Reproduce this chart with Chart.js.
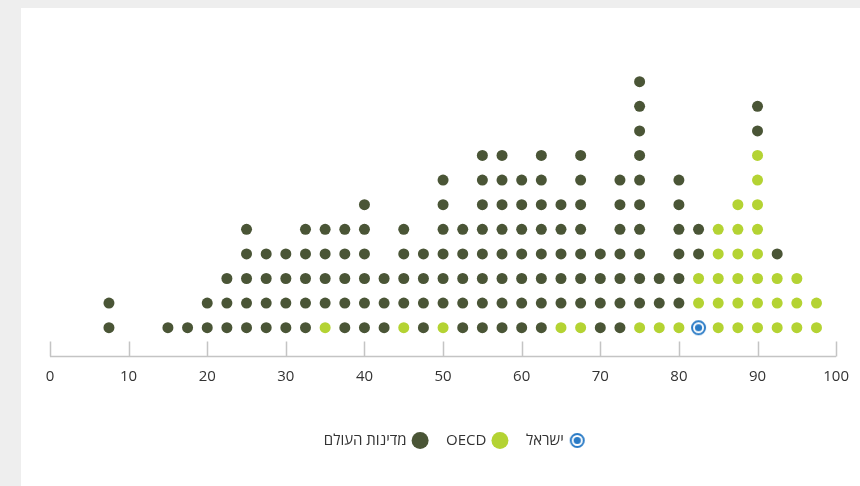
<!DOCTYPE html>
<html>
<head>
<meta charset="utf-8">
<script src="https://cdn.jsdelivr.net/npm/chart.js@4"></script>
<style>
  html, body { margin: 0; padding: 0; background: #eeeeee; }
  #wrap { position: absolute; left: 21px; top: 8px; width: 839px; height: 478px; background: #ffffff; }
</style>
</head>
<body>
<div id="wrap"><canvas id="chart1" width="839" height="478"></canvas></div>
<script>
// bins on the x axis (value), with how many countries fall in each
var bins = [7.5, 15, 17.5, 20, 22.5, 25, 27.5, 30, 32.5, 35, 37.5, 40, 42.5, 45, 47.5, 50, 52.5, 55, 57.5, 60,
            62.5, 65, 67.5, 70, 72.5, 75, 77.5, 80, 82.5, 85, 87.5, 90, 92.5, 95, 97.5];
var oecdCounts = [0, 0, 0, 0, 0, 0, 0, 0, 0, 1, 0, 0, 0, 1, 0, 1, 0, 0, 0, 0,
                  0, 1, 1, 0, 0, 1, 1, 1, 2, 5, 6, 8, 3, 3, 2];
var worldCounts = [2, 1, 1, 2, 3, 5, 4, 4, 5, 4, 5, 6, 3, 4, 4, 6, 5, 8, 8, 7,
                   8, 5, 7, 4, 7, 10, 2, 6, 2, 0, 0, 2, 1, 0, 0];
var israelValue = 82.5;
var xTicks = [0, 10, 20, 30, 40, 50, 60, 70, 80, 90, 100];
var labels = ["ישראל", "OECD", "מדינות העולם"];

var darkColor = "#4a5536";
var limeColor = "#b4d333";
var blueColor = "#2a7bc6";

// stack the dots: israel at the bottom of its bin, then oecd, then rest of world
var israelPts = [], oecdPts = [], worldPts = [];
for (var i = 0; i < bins.length; i++) {
    var level = 1;
    if (bins[i] === israelValue) {
        israelPts.push({ x: bins[i], y: level });
        level++;
    }
    for (var j = 0; j < oecdCounts[i]; j++) {
        oecdPts.push({ x: bins[i], y: level });
        level++;
    }
    for (var k = 0; k < worldCounts[i]; k++) {
        worldPts.push({ x: bins[i], y: level });
        level++;
    }
}

// ring + dot marker for israel
var israelIcon = document.createElement("canvas");
israelIcon.width = 17;
israelIcon.height = 17;
var ic = israelIcon.getContext("2d");
ic.strokeStyle = blueColor;
ic.lineWidth = 2;
ic.beginPath();
ic.arc(8.5, 8.5, 6.5, 0, Math.PI * 2);
ic.stroke();
ic.fillStyle = blueColor;
ic.beginPath();
ic.arc(8.5, 8.5, 3.6, 0, Math.PI * 2);
ic.fill();

// axis line with ticks pointing up
var axisPlugin = {
    id: "axisTicks",
    afterDraw: function (chart) {
        var c = chart.ctx;
        var xs = chart.scales.x;
        var base = chart.chartArea.bottom;
        c.save();
        c.strokeStyle = "#c4c4c4";
        c.lineWidth = 1.5;
        c.beginPath();
        c.moveTo(xs.getPixelForValue(0), base);
        c.lineTo(xs.getPixelForValue(100), base);
        xTicks.forEach(function (t) {
            var px = Math.round(xs.getPixelForValue(t)) + 0.5;
            c.moveTo(px, base);
            c.lineTo(px, base - 15);
        });
        c.stroke();
        c.restore();
    }
};

var ctx = document.getElementById("chart1").getContext("2d");
var myChart = new Chart(ctx, {
    type: "scatter",
    data: {
        datasets: [
            {
                label: labels[0],
                data: israelPts,
                pointStyle: israelIcon,
                backgroundColor: blueColor,
                borderColor: blueColor
            },
            {
                label: labels[1],
                data: oecdPts,
                pointStyle: "circle",
                pointRadius: 5.5,
                backgroundColor: limeColor,
                borderColor: limeColor,
                borderWidth: 0
            },
            {
                label: labels[2],
                data: worldPts,
                pointStyle: "circle",
                pointRadius: 5.5,
                backgroundColor: darkColor,
                borderColor: darkColor,
                borderWidth: 0
            }
        ]
    },
    plugins: [axisPlugin],
    options: {
        responsive: false,
        animation: false,
        layout: {
            padding: { left: 29, right: 3, top: 22, bottom: 28 }
        },
        scales: {
            x: {
                type: "linear",
                min: 0,
                max: 100,
                grid: { display: false, drawTicks: false },
                border: { display: false },
                ticks: {
                    stepSize: 10,
                    padding: 11,
                    color: "#333333",
                    font: { family: "'Open Sans', sans-serif", size: 15 }
                },
                afterFit: function (scale) {
                    scale.height += 16.5;
                }
            },
            y: {
                display: false,
                min: -0.17,
                max: 13.1
            }
        },
        plugins: {
            tooltip: { enabled: false },
            legend: {
                position: "bottom",
                rtl: true,
                textDirection: "rtl",
                labels: {
                    usePointStyle: true,
                    boxWidth: 12,
                    boxHeight: 12,
                    padding: 20,
                    color: "#333333",
                    font: { family: "'Open Sans', sans-serif", size: 15 }
                }
            }
        }
    }
});
</script>
</body>
</html>
